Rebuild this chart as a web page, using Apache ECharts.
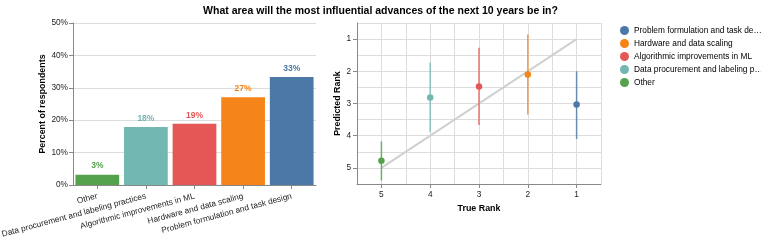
<!DOCTYPE html>
<html><head><meta charset="utf-8">
<script src="https://cdn.jsdelivr.net/npm/echarts@6/dist/echarts.min.js"></script>
<style>html,body{margin:0;padding:0;background:#fff}#c{width:761px;height:242px}</style>
</head><body><div id="c"></div>
<script>
const titleText = "What area will the most influential advances of the next 10 years be in?";
const categories = ["Other", "Data procurement and labeling practices", "Algorithmic improvements in ML", "Hardware and data scaling", "Problem formulation and task design"];
const percents = [3.2, 17.9, 18.9, 27.1, 33.3];
const colors = ["#54a24b", "#72b7b2", "#e45756", "#f58518", "#4c78a8"];
const trueRank = [5, 4, 3, 2, 1];
const predictedRank = [4.78, 2.81, 2.47, 2.1, 3.03];
const rankLow = [4.18, 1.73, 1.27, 0.86, 2.0];
const rankHigh = [5.39, 3.89, 3.67, 3.34, 4.1];
const pctTicks = [0, 10, 20, 30, 40, 50];
const rankTicks = [1, 2, 3, 4, 5];

const FONT = '"Liberation Sans", Arial, sans-serif';
const chart = echarts.init(document.getElementById('c'), null, {renderer: 'canvas'});

const series = [];
series.push({
  type: 'bar', xAxisIndex: 0, yAxisIndex: 0, barCategoryGap: '10%',
  data: percents.map((v, i) => ({value: v, itemStyle: {color: colors[i]},
    label: {color: colors[i]}})),
  label: {show: true, position: 'top', distance: 4, fontFamily: FONT, fontSize: 8.5, fontWeight: 'bold',
    formatter: p => Math.round(p.value) + '%'},
  silent: true
});
series.push({
  type: 'line', xAxisIndex: 1, yAxisIndex: 1, data: [[5, 5], [1, 1]], symbol: 'none',
  lineStyle: {color: '#d0d0d0', width: 2}, silent: true, z: 1
});
const order = [4, 3, 2, 1, 0];
order.forEach(i => {
  series.push({
    name: categories[i], type: 'line', xAxisIndex: 1, yAxisIndex: 1,
    data: [[trueRank[i], rankLow[i]], [trueRank[i], rankHigh[i]]], symbol: 'none',
    lineStyle: {color: colors[i], width: 1.5, opacity: 0.8}, itemStyle: {color: colors[i]}, z: 2
  });
  series.push({
    name: categories[i], type: 'scatter', xAxisIndex: 1, yAxisIndex: 1,
    data: [[trueRank[i], predictedRank[i]]], symbolSize: 6.5,
    itemStyle: {color: colors[i], opacity: 1}, z: 3
  });
});

const axisLineStyle = {show: true, lineStyle: {color: '#888', width: 1}};
const tickStyle = {show: true, length: 4, lineStyle: {color: '#888'}};
const labelStyle = {color: '#222', fontFamily: FONT, fontSize: 8.3};
const nameStyle = {color: '#000', fontFamily: FONT, fontSize: 8.9, fontWeight: 'bold'};

chart.setOption({
  animation: false,
  title: {text: titleText, left: 'center', top: 1,
    textStyle: {fontFamily: FONT, fontSize: 10.5, fontWeight: 'bold', color: '#000'}},
  legend: {
    orient: 'vertical', left: 615, top: 21, itemWidth: 9, itemHeight: 9, itemGap: 4,
    icon: 'circle', data: order.map(i => ({name: categories[i], icon: 'circle', itemStyle: {color: colors[i]}})),
    textStyle: {fontFamily: FONT, fontSize: 8.3, color: '#000', width: 131, overflow: 'truncate', ellipsis: '…'},
    selectedMode: false
  },
  grid: [
    {left: 73, top: 23, width: 243, height: 162, outerBoundsMode: 'none', containLabel: false},
    {left: 357, top: 23, width: 244, height: 161, outerBoundsMode: 'none', containLabel: false}
  ],
  xAxis: [
    {type: 'category', gridIndex: 0, data: categories,
      axisLine: axisLineStyle, axisTick: Object.assign({alignWithLabel: true}, tickStyle),
      axisLabel: Object.assign({rotate: 15, interval: 0, margin: 11}, labelStyle),
      splitLine: {show: false}},
    {type: 'value', gridIndex: 1, min: 0.5, max: 5.5, interval: 0.5, inverse: true,
      name: 'True Rank', nameLocation: 'middle', nameGap: 18.5, nameTextStyle: nameStyle,
      axisLine: axisLineStyle,
      axisTick: Object.assign({customValues: rankTicks}, tickStyle),
      axisLabel: Object.assign({customValues: rankTicks, margin: 7}, labelStyle),
      splitLine: {show: false}},
    {type: 'value', gridIndex: 1, min: 0.5, max: 5.5, interval: 0.5, inverse: true,
      axisLine: {show: false}, axisTick: {show: false}, axisLabel: {show: false},
      splitLine: {show: true, lineStyle: {color: '#ddd', width: 1}}}
  ],
  yAxis: [
    {type: 'value', gridIndex: 0, min: pctTicks[0], max: pctTicks[pctTicks.length - 1], interval: 10,
      name: 'Percent of respondents', nameLocation: 'middle', nameGap: 25.5, nameTextStyle: nameStyle,
      axisLine: axisLineStyle, axisTick: tickStyle,
      axisLabel: Object.assign({formatter: '{value}%', margin: 5}, labelStyle),
      splitLine: {show: true, lineStyle: {color: '#ddd', width: 1}}},
    {type: 'value', gridIndex: 1, min: 0.5, max: 5.5, interval: 0.5, inverse: true,
      name: 'Predicted Rank', nameLocation: 'middle', nameGap: 15, nameTextStyle: nameStyle,
      axisLine: axisLineStyle,
      axisTick: Object.assign({customValues: rankTicks}, tickStyle),
      axisLabel: Object.assign({customValues: rankTicks, margin: 6}, labelStyle),
      splitLine: {show: false}},
    {type: 'value', gridIndex: 1, min: 0.5, max: 5.5, interval: 0.5, inverse: true,
      axisLine: {show: false}, axisTick: {show: false}, axisLabel: {show: false},
      splitLine: {show: true, lineStyle: {color: '#ddd', width: 1}}}
  ],
  series: series
});
</script></body></html>
